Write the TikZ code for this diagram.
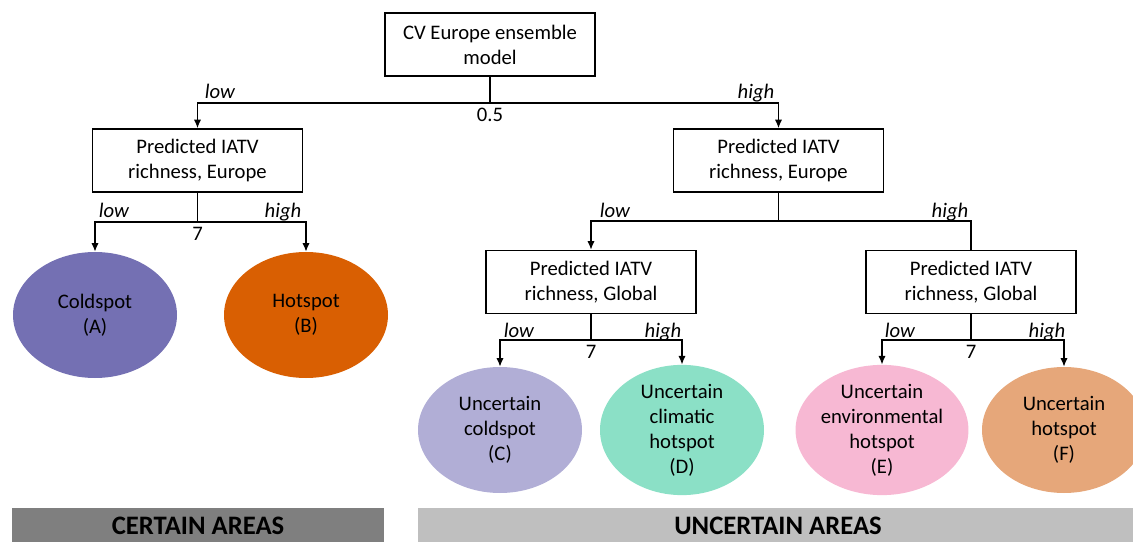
\documentclass[tikz,border=0pt]{standalone}
\usepackage{fontspec}
\setmainfont{Carlito}
\usetikzlibrary{shapes.geometric,arrows.meta}
\definecolor{cA}{HTML}{7470B3}
\definecolor{cB}{HTML}{D95F02}
\definecolor{cC}{HTML}{B1AED6}
\definecolor{cD}{HTML}{8BE0C6}
\definecolor{cE}{HTML}{F7B8D3}
\definecolor{cF}{HTML}{E6A77A}
\definecolor{barD}{HTML}{7F7F7F}
\definecolor{barL}{HTML}{BFBFBF}
\begin{document}
\begin{tikzpicture}[x=0.75pt,y=-0.75pt,
  every node/.style={font=\fontsize{15.5}{18.75}\selectfont},
  box/.style={draw,line width=1.1pt,minimum width=210*0.75pt,minimum height=63*0.75pt,align=center,inner sep=0pt},
  leaf/.style={ellipse,minimum width=164*0.75pt,minimum height=126*0.75pt,inner sep=0pt,align=center},
  lab/.style={font=\fontsize{15.5}{17}\itshape,inner sep=0pt,anchor=base},
  thr/.style={inner sep=3.5pt,anchor=north},
  ln/.style={line width=1.1pt},
  arr/.style={line width=1.1pt,-{Latex[length=6.5pt,width=5.5pt]}},
  bar/.style={minimum height=36*0.75pt,inner sep=0pt,font=\fontsize{20}{22}\bfseries\selectfont}
]
\useasboundingbox (0,0) rectangle (1133,542);
\clip (0,0) rectangle (1133,542);

% boxes
\node[box] (top) at (490,44.5) {CV Europe ensemble\\model};
\node[box] (eL) at (197.5,160.5) {Predicted IATV\\richness, Europe};
\node[box] (eR) at (778.5,160.5) {Predicted IATV\\richness, Europe};
\node[box] (gL) at (591,282) {Predicted IATV\\richness, Global};
\node[box] (gR) at (971,282) {Predicted IATV\\richness, Global};

% leaves
\node[leaf,fill=cA] (A) at (95,315) {Coldspot\\(A)};
\node[leaf,fill=cB] (B) at (306,315) {Hotspot\\(B)};
\node[leaf,fill=cC] (C) at (500,430) {Uncertain\\coldspot\\(C)};
\node[leaf,fill=cD] (D) at (682,430) {Uncertain\\climatic\\hotspot\\(D)};
\node[leaf,fill=cE] (E) at (882,430) {Uncertain\\environmental\\hotspot\\(E)};
\node[leaf,fill=cF] (F) at (1064,430) {Uncertain\\hotspot\\(F)};

% junctions
\coordinate (j0) at (490,103);
\coordinate (j1) at (197.5,222);
\coordinate (j2) at (778.5,221);
\coordinate (j3) at (591,340);
\coordinate (j4) at (971,340);

\draw[ln] (top.south) -- (j0);
\draw[arr] (j0) -| (eL.north);
\draw[arr] (j0) -| (eR.north);
\node[lab] at (220,99) {low};
\node[lab] at (756,99) {high};
\node[thr] at (j0) {0.5};

\draw[ln] (eL.south) -- (j1);
\draw[arr] (j1) -| (A.north);
\draw[arr] (j1) -| (B.north);
\node[lab] at (114,218) {low};
\node[lab] at (283,218) {high};
\node[thr] at (j1) {7};

\draw[ln] (eR.south) -- (j2);
\draw[arr] (j2) -| (gL.north);
\draw[ln] (j2) -| (gR.north);
\node[lab] at (615,218) {low};
\node[lab] at (950,218) {high};

\draw[ln] (gL.south) -- (j3);
\draw[arr] (j3) -| (C.north);
\draw[arr] (j3) -| (D.north);
\node[lab] at (519,337) {low};
\node[lab] at (663,337) {high};
\node[thr] at (j3) {7};

\draw[ln] (gR.south) -- (j4);
\draw[arr] (j4) -| (E.north);
\draw[arr] (j4) -| (F.north);
\node[lab] at (900,337) {low};
\node[lab] at (1047,337) {high};
\node[thr] at (j4) {7};

% bars
\node[bar,fill=barD,minimum width=372*0.75pt] (cert) at (198,526) {CERTAIN AREAS};
\node[bar,fill=barL,minimum width=720*0.75pt] (unc) at (778,526) {UNCERTAIN AREAS};
\end{tikzpicture}
\end{document}
